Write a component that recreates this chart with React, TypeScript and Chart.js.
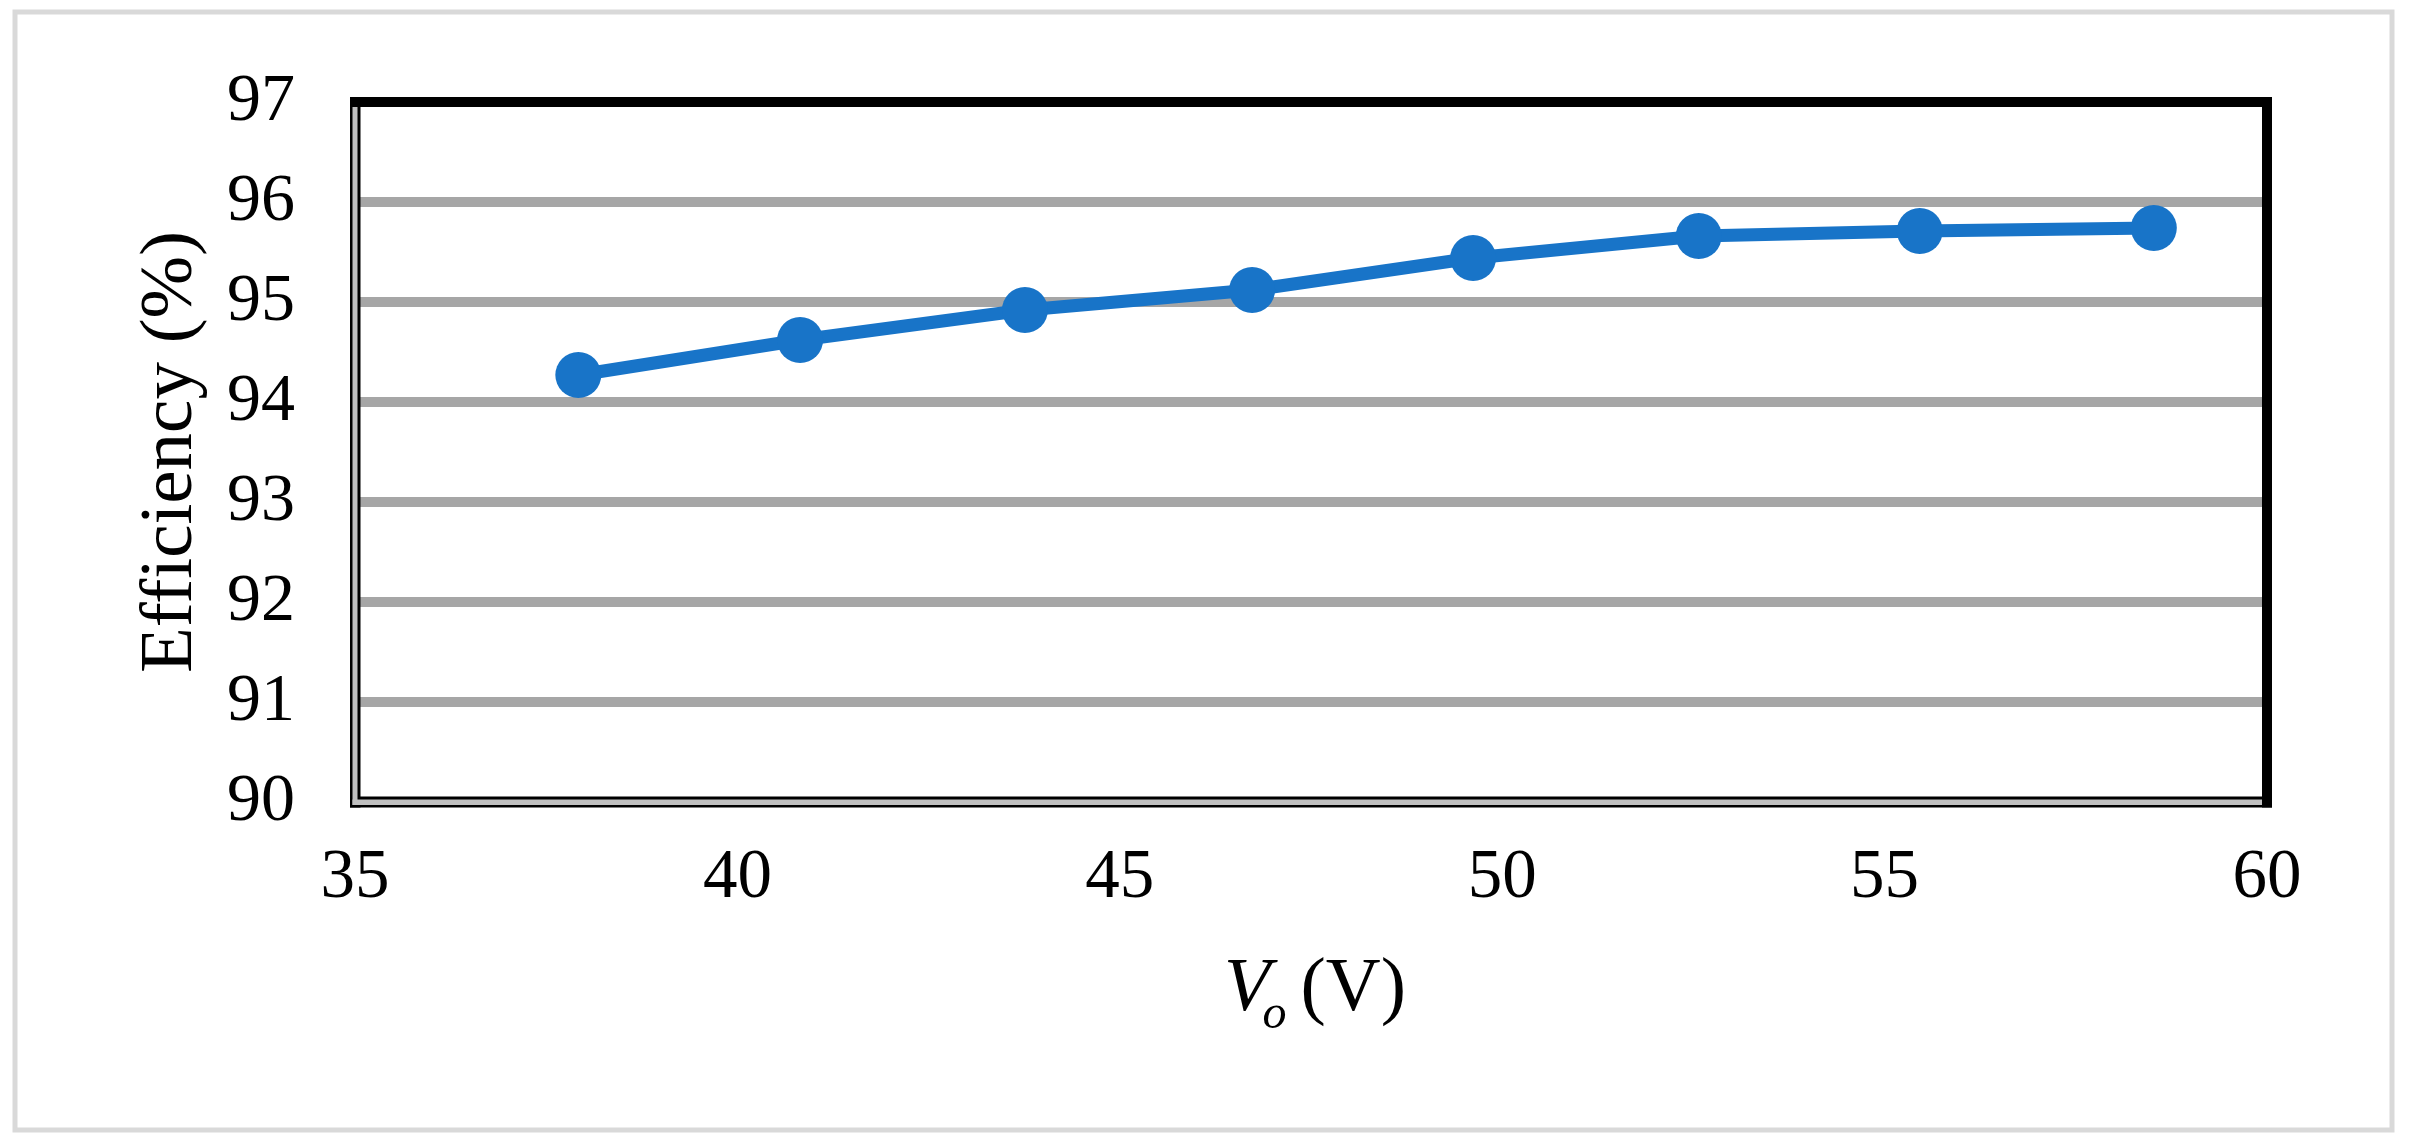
import React, { useEffect, useRef } from "react";
import { Chart, registerables } from "chart.js";

Chart.register(...registerables);

const voltage = [37.92, 40.82, 43.76, 46.73, 49.62, 52.57, 55.46, 58.52];
const efficiency = [94.27, 94.62, 94.92, 95.12, 95.44, 95.66, 95.71, 95.74];
const xTickRange = { min: 35, max: 60, step: 5 };
const yTickRange = { min: 90, max: 97, step: 1 };
const yTitle = "Efficiency (%)";
const xTitleMain = "V";
const xTitleSub = "o";
const xTitleUnit = "(V)";

const SERIF = '"Liberation Serif", "Times New Roman", serif';
const BLUE = "#1874c8";

const framePlugin = {
  id: "frame",
  beforeDraw(chart: any) {
    const ctx = chart.ctx;
    ctx.save();
    ctx.fillStyle = "#ffffff";
    ctx.fillRect(0, 0, chart.width, chart.height);
    ctx.strokeStyle = "#d9d9d9";
    ctx.lineWidth = 5;
    ctx.strokeRect(15, 12, chart.width - 15 - 18, chart.height - 12 - 16);
    ctx.restore();
  },
};

const borderPlugin = {
  id: "plotBorder",
  afterDatasetsDraw(chart: any) {
    const { ctx, chartArea } = chart;
    const { left, top, right, bottom } = chartArea;
    ctx.save();
    ctx.fillStyle = "#000000";
    ctx.fillRect(left - 5, top - 5, 10.5, bottom + 5.5 - (top - 5));
    ctx.fillRect(left - 5, bottom - 5.5, right - left + 10, 11);
    ctx.fillStyle = "#c0c0c0";
    ctx.fillRect(left - 2.5, top + 5, 5, bottom + 3 - (top + 5));
    ctx.fillRect(left - 2.5, bottom - 2.5, right - left, 5.5);
    ctx.fillStyle = "#000000";
    ctx.fillRect(left - 5, top - 5, right - left + 10, 10);
    ctx.fillRect(right - 5, top - 5, 10, bottom + 5.5 - (top - 5));
    ctx.restore();
  },
  afterDraw(chart: any) {
    const { ctx, chartArea } = chart;
    const cx = (chartArea.left + chartArea.right) / 2;
    const base = chartArea.bottom + 208;
    ctx.save();
    ctx.fillStyle = "#000000";
    ctx.textBaseline = "alphabetic";
    ctx.textAlign = "left";
    const mainFont = `italic 76px ${SERIF}`;
    const subFont = `italic 48px ${SERIF}`;
    const unitFont = `76px ${SERIF}`;
    ctx.font = mainFont;
    const wV = ctx.measureText(xTitleMain).width;
    ctx.font = subFont;
    const wo = ctx.measureText(xTitleSub).width;
    ctx.font = unitFont;
    const wu = ctx.measureText(xTitleUnit).width;
    const gap = 14;
    const total = wV - 8 + wo + gap + wu;
    let x = cx - total / 2 + 4;
    ctx.font = mainFont;
    ctx.fillText(xTitleMain, x, base);
    x += wV - 8;
    ctx.font = subFont;
    ctx.fillText(xTitleSub, x, base + 18);
    x += wo + gap;
    ctx.font = unitFont;
    ctx.fillText(xTitleUnit, x, base);
    ctx.restore();
  },
};

export default function App() {
  const canvasRef = useRef<HTMLCanvasElement | null>(null);

  useEffect(() => {
    if (!canvasRef.current) return;
    const points = voltage.map((v, i) => ({ x: v, y: efficiency[i] }));
    const chart = new Chart(canvasRef.current, {
      type: "line",
      data: {
        datasets: [
          {
            data: points,
            borderColor: BLUE,
            backgroundColor: BLUE,
            borderWidth: 13,
            pointRadius: 23,
            pointBackgroundColor: BLUE,
            pointBorderColor: BLUE,
            pointBorderWidth: 0,
            tension: 0,
            fill: false,
            clip: false as any,
          },
        ],
      },
      options: {
        responsive: false,
        animation: false,
        events: [],
        devicePixelRatio: 1,
        layout: { padding: { top: 102, right: 143, bottom: 0, left: 0 } },
        plugins: {
          legend: { display: false },
          tooltip: { enabled: false },
        },
        scales: {
          x: {
            type: "linear",
            min: xTickRange.min,
            max: xTickRange.max,
            ticks: {
              stepSize: xTickRange.step,
              color: "#000000",
              font: { family: SERIF, size: 69 },
              padding: 35,
              maxRotation: 0,
              autoSkip: false,
            },
            grid: { display: false, drawTicks: false },
            border: { display: false },
            afterFit: (scale: any) => {
              scale.height = 344;
            },
          },
          y: {
            type: "linear",
            min: yTickRange.min,
            max: yTickRange.max,
            ticks: {
              stepSize: yTickRange.step,
              color: "#000000",
              font: { family: SERIF, size: 68 },
              padding: 60,
            },
            grid: { color: "#a6a6a6", lineWidth: 10, drawTicks: false },
            border: { display: false },
            title: {
              display: true,
              text: yTitle,
              color: "#000000",
              font: { family: SERIF, size: 75 },
              padding: { top: 126, bottom: 0 },
            },
            afterFit: (scale: any) => {
              scale.width = 355;
            },
          },
        },
      },
      plugins: [framePlugin, borderPlugin],
    });
    return () => chart.destroy();
  }, []);

  return (
    <div style={{ position: "fixed", left: 0, top: 0, width: 2410, height: 1146, background: "#fff" }}>
      <canvas ref={canvasRef} width={2410} height={1146} style={{ width: 2410, height: 1146, display: "block" }} />
    </div>
  );
}
